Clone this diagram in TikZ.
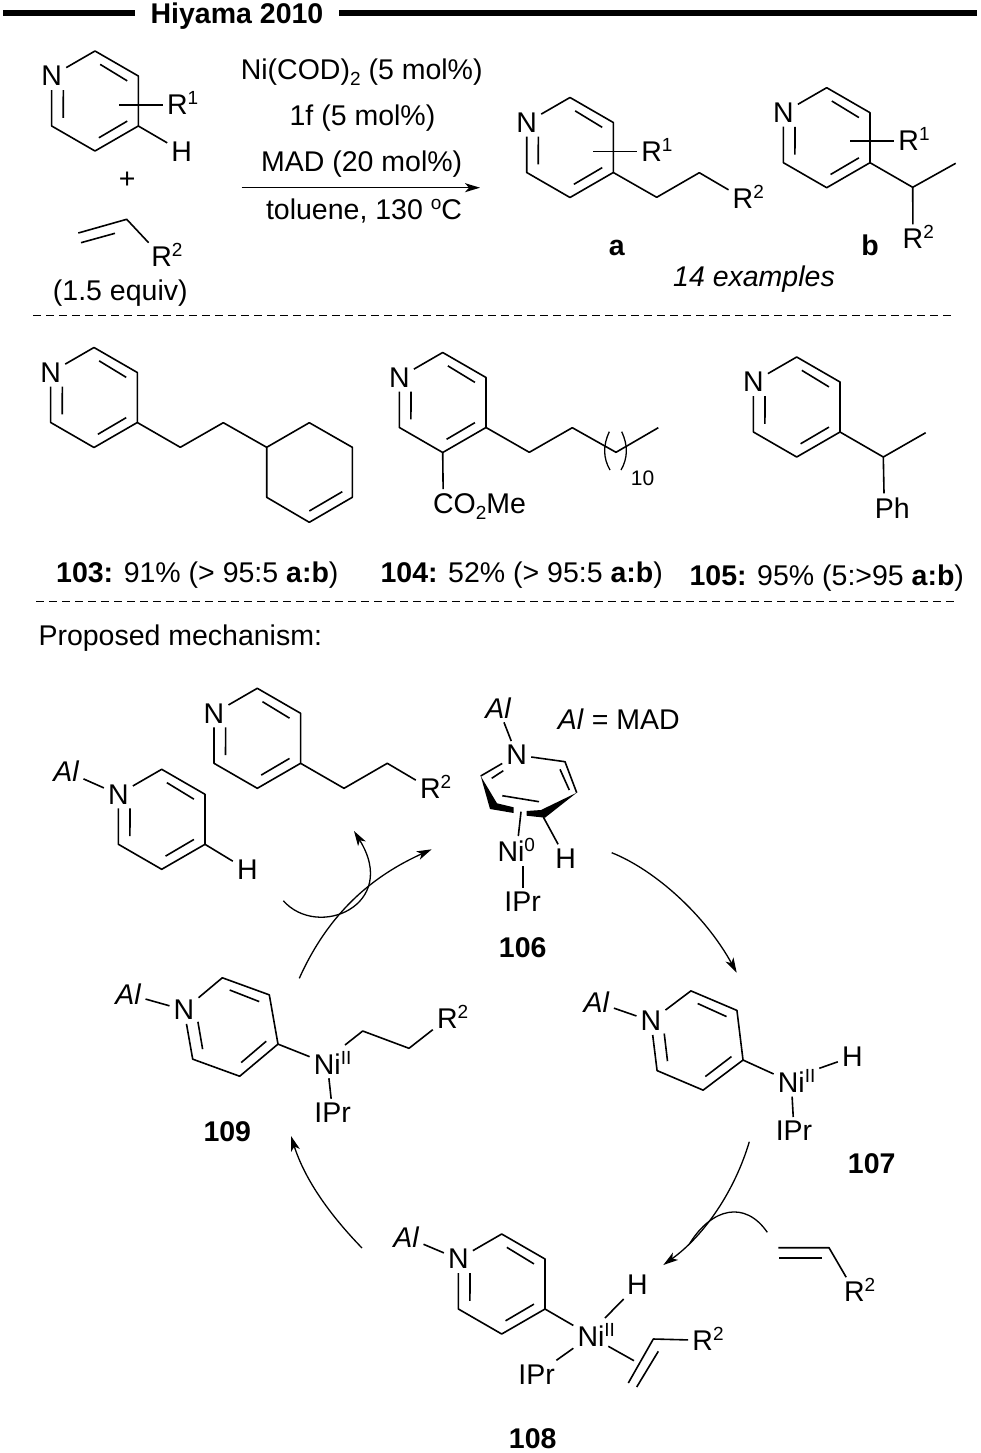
\documentclass[tikz,border=0pt]{standalone}
\usepackage{fontspec}
\setmainfont{Liberation Sans}
\usetikzlibrary{arrows.meta}
\newcommand{\up}[1]{\raisebox{10pt}[0pt][0pt]{\fontsize{19}{19}\selectfont #1}}
\newcommand{\dn}[1]{\raisebox{-6pt}[0pt][0pt]{\fontsize{19}{19}\selectfont #1}}
\newcommand{\Al}{\textit{Al}}
\tikzset{
  every node/.style={font=\fontsize{28.5}{32}\selectfont},
  atom/.style={inner sep=4pt},
  lab/.style={anchor=base,inner sep=0pt},
  bold/.style={font=\fontsize{28.5}{32}\selectfont\bfseries},
  bond/.style={line width=1.6pt,line join=round},
  wedge/.style={fill=black,draw=none},
  titlerule/.style={line width=6pt},
  sepline/.style={line width=1.2pt,dash pattern=on 8pt off 5pt},
  rxn/.style={line width=1.3pt,-{Stealth[length=15pt,width=9pt,inset=4pt]}},
  turn/.style={line width=1.3pt},
}
\newcommand{\pyr}[3]{
  \begin{scope}[shift={#2},rotate=#3]
    \node[atom] (#1n) at (150:50) {N};
    \coordinate (#1a) at (90:50);
    \coordinate (#1b) at (30:50);
    \coordinate (#1c) at (-30:50);
    \coordinate (#1d) at (-90:50);
    \coordinate (#1e) at (-150:50);
    \draw[bond] (82:37) -- (32:38);
    \draw[bond] (-84:37) -- (-32:38);
    \draw[bond] (161:33.5) -- (-152:36);
  \end{scope}
  \draw[bond] (#1n) -- (#1a) -- (#1b) -- (#1c) -- (#1d) -- (#1e) -- (#1n);
}
\begin{document}
\begin{tikzpicture}[x=1pt,y=1pt]
  \useasboundingbox (0,0) rectangle (980,-1453);

  \node[lab,bold,inner xsep=15pt] (title) at (237,-24) {Hiyama 2010};
  \coordinate (rulel) at (3,-13);
  \coordinate (ruler) at (977,-13);
  \draw[titlerule] (rulel) -- (rulel -| title.west);
  \draw[titlerule] (ruler) -- (ruler -| title.east);

  \pyr{sm}{(95,-101)}{0}
  \node[atom] (smrone) at (177.3,-105) {R\rlap{\up{1}}};
  \node[atom] (smh) at (181.7,-151.3) {H};
  \coordinate (smsub) at (119,-105);
  \draw[bond] (smsub) -- (smrone);
  \draw[bond] (smc) -- (smh);
  \node[lab] (plus) at (127.3,-188) {+};
  \coordinate (vina) at (78.3,-233);
  \coordinate (vinb) at (126.7,-219.3);
  \coordinate (vinc) at (81,-242.7);
  \coordinate (vind) at (115,-233.3);
  \node[atom] (vinr) at (161.7,-256.7) {R\rlap{\up{2}}};
  \draw[bond] (vina) -- (vinb) -- (vinr);
  \draw[bond] (vinc) -- (vind);
  \node[lab] (equiv) at (120.3,-300) {(1.5 equiv)};

  \node[lab] (cond1) at (361.7,-79.3) {Ni(COD)\dn{2} (5 mol\%)};
  \node[lab] (cond2) at (362.5,-125) {1f (5 mol\%)};
  \node[lab] (cond3) at (361.7,-171) {MAD (20 mol\%)};
  \node[lab] (cond4) at (364,-219.3) {toluene, 130 \up{o}C};
  \coordinate (rxnl) at (241.7,-187.7);
  \coordinate (rxnr) at (480,-187.7);
  \draw[rxn] (rxnl) -- (rxnr);

  \pyr{pa}{(570,-147.5)}{0}
  \node[atom] (parone) at (651.7,-151.3) {R\rlap{\up{1}}};
  \coordinate (pasub) at (593.3,-151.3);
  \draw[bond] (pasub) -- (parone);
  \coordinate (pax) at (656.7,-197.3);
  \coordinate (pay) at (699.3,-172.7);
  \node[atom] (partwo) at (743,-198.3) {R\rlap{\up{2}}};
  \draw[bond] (pac) -- (pax) -- (pay) -- (partwo);
  \node[lab,bold] (laba) at (616.7,-255) {a};

  \pyr{pb}{(826.7,-137.7)}{0}
  \node[atom] (pbrone) at (908.7,-141) {R\rlap{\up{1}}};
  \coordinate (pbsub) at (850,-141);
  \draw[bond] (pbsub) -- (pbrone);
  \coordinate (pbx) at (912.7,-187.3);
  \coordinate (pbme) at (955.7,-163.3);
  \node[atom] (pbrtwo) at (913,-238.3) {R\rlap{\up{2}}};
  \draw[bond] (pbc) -- (pbx) -- (pbme);
  \draw[bond] (pbx) -- (pbrtwo);
  \node[lab,bold] (labb) at (870,-255) {b};
  \node[lab] (examples) at (754,-286.7) {\textit{14 examples}};

  \coordinate (sepal) at (33,-315.7);
  \coordinate (separ) at (955,-315.7);
  \draw[sepline] (sepal) -- (separ);

  \pyr{ca}{(94,-397.5)}{0}
  \coordinate (cax) at (180.3,-447.3);
  \coordinate (cay) at (223.3,-422.7);
  \coordinate (chexa) at (266.7,-447.3);
  \coordinate (chexb) at (309.3,-422.7);
  \coordinate (chexc) at (352.3,-447.3);
  \coordinate (chexd) at (352.3,-497.3);
  \coordinate (chexe) at (309.3,-522.3);
  \coordinate (chexf) at (266.7,-497.3);
  \coordinate (chexg) at (342.3,-491.7);
  \coordinate (chexh) at (309.3,-511);
  \draw[bond] (cac) -- (cax) -- (cay) -- (chexa);
  \draw[bond] (chexa) -- (chexb) -- (chexc) -- (chexd) -- (chexe) -- (chexf) -- cycle;
  \draw[bond] (chexg) -- (chexh);
  \node[lab] (cmpa) at (197.3,-582.7) {\textbf{103:} 91\% (> 95:5 \textbf{a:b})};

  \pyr{cb}{(442.7,-402.5)}{0}
  \node[atom] (cbco) at (443.3,-503.3) {C\rlap{O\dn{2}Me}};
  \draw[bond] (cbd) -- (cbco);
  \coordinate (cbx) at (529.3,-452.3);
  \coordinate (cby) at (572.3,-427.7);
  \coordinate (cbz) at (616,-452.3);
  \coordinate (cbw) at (658.3,-427.7);
  \draw[bond] (cbc) -- (cbx) -- (cby) -- (cbz) -- (cbw);
  \coordinate (brla) at (609.3,-431.7);
  \coordinate (brlb) at (610,-470);
  \coordinate (brra) at (621.7,-431.7);
  \coordinate (brrb) at (621,-470);
  \draw[turn] (brla) .. controls (603,-445) and (603,-458) .. (brlb);
  \draw[turn] (brra) .. controls (628,-445) and (628,-458) .. (brrb);
  \node[lab,font=\fontsize{21}{24}\selectfont] (cbten) at (642.5,-485) {10};
  \node[lab] (cmpb) at (521.7,-582.7) {\textbf{104:} 52\% (> 95:5 \textbf{a:b})};

  \pyr{cc}{(796.7,-407)}{0}
  \coordinate (ccx) at (883.3,-457);
  \coordinate (ccme) at (925.7,-432.7);
  \node[atom] (ccph) at (884.3,-508) {P\rlap{h}};
  \draw[bond] (ccc) -- (ccx) -- (ccme);
  \draw[bond] (ccx) -- (ccph);
  \node[lab] (cmpc) at (826.8,-585) {\textbf{105:} 95\% (5:>95 \textbf{a:b})};

  \coordinate (sepbl) at (36,-601.7);
  \coordinate (sepbr) at (958,-601.7);
  \draw[sepline] (sepbl) -- (sepbr);
  \node[lab,anchor=base west] (mech) at (38.3,-645) {Proposed mechanism:};

  \pyr{md}{(257.3,-738.3)}{0}
  \coordinate (mdx) at (344,-788.3);
  \coordinate (mdy) at (387.3,-763.3);
  \node[atom] (mdr) at (430.3,-788.7) {R\rlap{\up{2}}};
  \draw[bond] (mdc) -- (mdx) -- (mdy) -- (mdr);

  \pyr{ms}{(161.7,-819.3)}{0}
  \node[atom] (msal) at (66.3,-771.3) {\Al};
  \node[atom] (msh) at (247.3,-870) {H};
  \draw[bond] (msal) -- (msn);
  \draw[bond] (msc) -- (msh);

  \node[atom] (mal) at (498.3,-707.8) {\Al};
  \node[lab] (aleq) at (618.8,-729) {\Al{} = MAD};
  \node[atom] (mn) at (516.7,-755) {N};
  \coordinate (mva) at (480.7,-776);
  \coordinate (mvb) at (565,-761.7);
  \coordinate (mvc) at (576.7,-792.7);
  \coordinate (mvd) at (503.3,-770.7);
  \coordinate (mve) at (491.7,-778.3);
  \coordinate (mvf) at (560,-769.3);
  \coordinate (mvg) at (569.3,-790);
  \coordinate (mvh) at (502.3,-795.7);
  \coordinate (mvi) at (539,-801.7);
  \coordinate (mvj) at (521,-811.7);
  \coordinate (mvk) at (543.3,-817);
  \coordinate (mvm) at (518.3,-836);
  \node[atom] (mni) at (511,-851.3) {Ni\rlap{\up{0}}};
  \node[atom] (mh) at (565.7,-858.3) {H};
  \node[atom] (mipr) at (522.7,-901.7) {IPr};
  \draw[bond] (mal) -- (mn);
  \draw[bond] (mn) -- (mva);
  \draw[bond] (mn) -- (mvb) -- (mvc);
  \draw[bond] (mvd) -- (mve);
  \draw[bond] (mvf) -- (mvg);
  \draw[bond] (mvh) -- (mvi);
  \fill[wedge] (mva) -- (497,-803.3) -- (513.7,-807.3) -- (513.7,-813) -- (490,-809) -- cycle;
  \fill[wedge] (mvc) -- (541,-810) -- (526.7,-811) -- (526.7,-815.7) -- (545,-817.7) -- cycle;
  \draw[bond] (mvj) -- (mvm);
  \draw[bond] (mvk) -- (mh);
  \draw[bond] (mipr.north) -- (mipr.north |- mni.south);
  \node[lab,bold] (labf) at (522.7,-957.7) {106};

  \pyr{mg}{(697,-1040.5)}{7}
  \node[atom] (mgal) at (596.7,-1002.2) {\Al};
  \node[atom] (mgni) at (791.3,-1082) {Ni\rlap{\up{II}}};
  \node[atom] (mgh) at (852.3,-1056.7) {H};
  \node[atom] (mgipr) at (794,-1131) {IPr};
  \coordinate (mgnih) at (819.3,-1068.3);
  \draw[bond] (mgal) -- (mgn);
  \draw[bond] (mgc) -- (mgni);
  \draw[bond] (mgnih) -- (mgh);
  \draw[bond] (mgni) -- (mgipr);
  \node[lab,bold] (labg) at (871.7,-1173.3) {107};

  \pyr{mh}{(501.7,-1284)}{0}
  \node[atom] (mhal) at (406.3,-1237) {\Al};
  \node[atom] (mhni) at (591,-1335.7) {Ni\rlap{\up{II}}};
  \node[atom] (mhh) at (637.3,-1285) {H};
  \node[atom] (mhipr) at (536.7,-1374.3) {IPr};
  \node[atom] (mhr) at (702.7,-1340.3) {R\rlap{\up{2}}};
  \coordinate (mhnih) at (605,-1318);
  \coordinate (mhnia) at (608.3,-1346.3);
  \coordinate (mhetb) at (634,-1360.7);
  \coordinate (mhea) at (653.3,-1339);
  \coordinate (mheb) at (628.3,-1383);
  \coordinate (mhec) at (658.3,-1351.3);
  \coordinate (mhed) at (636.7,-1387);
  \draw[bond] (mhal) -- (mhn);
  \draw[bond] (mhc) -- (mhni);
  \draw[bond] (mhnih) -- (mhh);
  \draw[bond] (mhni) -- (mhipr);
  \draw[bond] (mhnia) -- (mhetb);
  \draw[bond] (mheb) -- (mhea) -- (mhr);
  \draw[bond] (mhec) -- (mhed);
  \node[lab,bold] (labh) at (532.7,-1448) {108};

  \coordinate (olfa) at (778.3,-1247.7);
  \coordinate (olfb) at (829,-1247.7);
  \coordinate (olfc) at (779,-1257.7);
  \coordinate (olfd) at (822.3,-1257.7);
  \node[atom] (olfr) at (854.3,-1291.2) {R\rlap{\up{2}}};
  \draw[bond] (olfa) -- (olfb) -- (olfr);
  \draw[bond] (olfc) -- (olfd);

  \pyr{mi}{(231,-1027)}{10}
  \node[atom] (mial) at (128.3,-994.2) {\Al};
  \node[atom] (mini) at (327.3,-1063.7) {Ni\rlap{\up{II}}};
  \node[atom] (miipr) at (332.7,-1112.8) {IPr};
  \node[atom] (mir) at (447.3,-1018.3) {R\rlap{\up{2}}};
  \coordinate (mis) at (345,-1045);
  \coordinate (mix) at (362.7,-1031);
  \coordinate (miy) at (409,-1048.3);
  \draw[bond] (mial) -- (min);
  \draw[bond] (mic) -- (mini);
  \draw[bond] (mini) -- (miipr);
  \draw[bond] (mis) -- (mix) -- (miy) -- (mir);
  \node[lab,bold] (labi) at (227.3,-1141) {109};

  \coordinate (arfa) at (611.7,-852.7);
  \coordinate (arfb) at (736.7,-972.7);
  \draw[rxn] (arfa) .. controls (655,-870) and (705,-915) .. (arfb);
  \coordinate (arga) at (749.3,-1141.7);
  \coordinate (argb) at (663.3,-1265);
  \draw[rxn] (arga) .. controls (735,-1190) and (705,-1235) .. (argb);
  \coordinate (olfia) at (767.3,-1232.3);
  \coordinate (olfib) at (690,-1243);
  \draw[turn] (olfia) .. controls (745,-1200) and (712,-1208) .. (olfib);
  \coordinate (arha) at (362,-1248);
  \coordinate (arhb) at (291,-1136);
  \draw[rxn] (arha) .. controls (330,-1215) and (305,-1180) .. (arhb);
  \coordinate (aria) at (299.3,-978.3);
  \coordinate (arib) at (431.7,-849.3);
  \draw[rxn] (aria) .. controls (330,-910) and (375,-875) .. (arib);
  \coordinate (arja) at (283.3,-900.7);
  \coordinate (arjb) at (354,-831);
  \draw[rxn] (arja) .. controls (318,-940) and (400,-905) .. (arjb);
\end{tikzpicture}
\end{document}
